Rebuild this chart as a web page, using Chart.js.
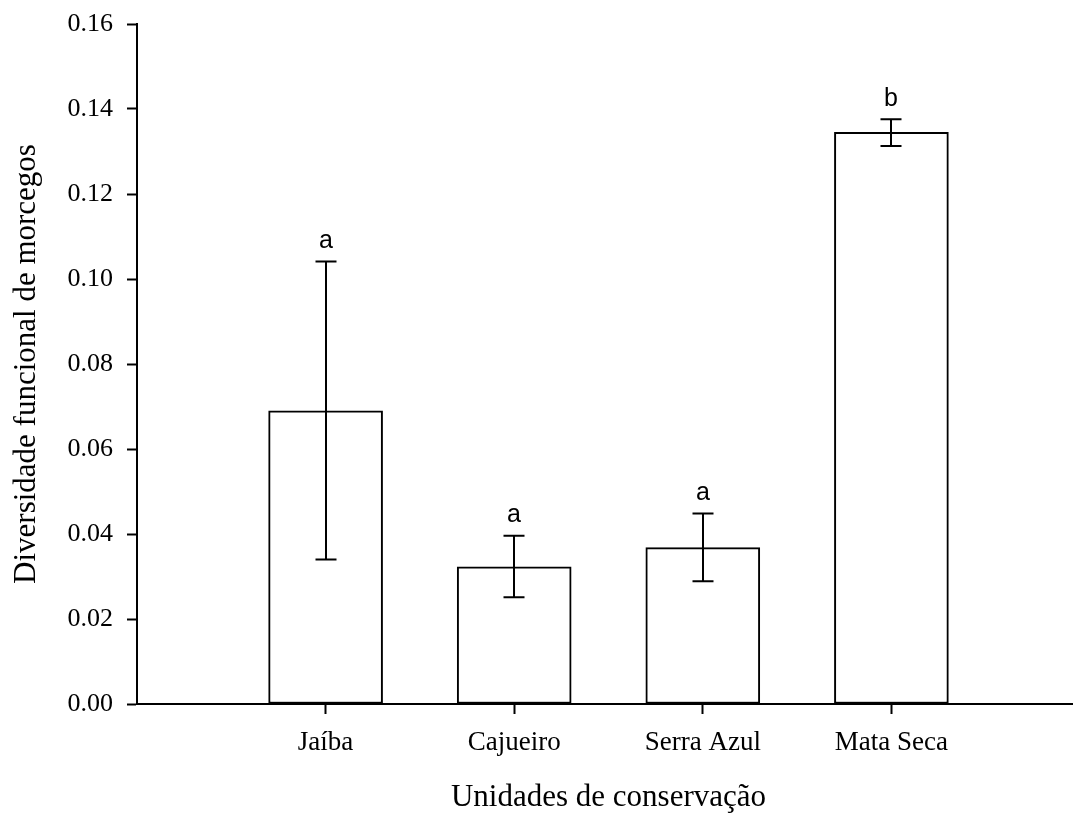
<!DOCTYPE html>
<html>
<head>
<meta charset="utf-8">
<script src="https://cdn.jsdelivr.net/npm/chart.js@4"></script>
<style>
  html, body { margin: 0; padding: 0; background: #fff; overflow: hidden; }
</style>
</head>
<body>
<!-- o eixo x passa um pouco da borda direita da figura -->
<canvas id="grafico" width="1080" height="818"></canvas>
<script>
// Dados
const categorias = ["Jaíba", "Cajueiro", "Serra Azul", "Mata Seca"];
const medias = [0.0690, 0.0323, 0.0368, 0.1345];
const erroSuperior = [0.1041, 0.0396, 0.0448, 0.1376];
const erroInferior = [0.0340, 0.0251, 0.0289, 0.1313];
const letras = ["a", "a", "a", "b"];
const yTicks = [0, 0.02, 0.04, 0.06, 0.08, 0.10, 0.12, 0.14, 0.16];

const serif = "'Liberation Serif', 'Times New Roman', serif";
const sans = "'Liberation Sans', Arial, sans-serif";

// slots vazios nas pontas, como no original
const rotulos = ["", ...categorias, ""];
const valores = [null, ...medias, null];

// Barras de erro e letras de significância
const barrasErro = {
  id: "barrasErro",
  afterDatasetsDraw(chart) {
    const { ctx, scales: { x, y } } = chart;
    ctx.save();
    ctx.strokeStyle = "#000";
    ctx.lineWidth = 2;
    ctx.fillStyle = "#000";
    ctx.font = "25px " + sans;
    ctx.textAlign = "center";
    ctx.textBaseline = "alphabetic";
    categorias.forEach((cat, i) => {
      const px = Math.round(x.getPixelForValue(i + 1));
      const topo = y.getPixelForValue(erroSuperior[i]);
      const base = y.getPixelForValue(erroInferior[i]);
      ctx.beginPath();
      ctx.moveTo(px, topo);
      ctx.lineTo(px, base);
      ctx.moveTo(px - 10.5, topo);
      ctx.lineTo(px + 10.5, topo);
      ctx.moveTo(px - 10.5, base);
      ctx.lineTo(px + 10.5, base);
      ctx.stroke();
      ctx.fillText(letras[i], px, topo - 13.5);
    });
    ctx.restore();
  }
};

const ctx = document.getElementById("grafico").getContext("2d");
new Chart(ctx, {
  type: "bar",
  data: {
    labels: rotulos,
    datasets: [{
      data: valores,
      backgroundColor: "#fff",
      borderColor: "#000",
      borderWidth: 2,
      borderSkipped: false,
      barThickness: 114
    }]
  },
  options: {
    responsive: false,
    animation: false,
    layout: { padding: { top: 24, right: 0, left: 0, bottom: 0 } },
    plugins: {
      legend: { display: false },
      tooltip: { enabled: false }
    },
    scales: {
      x: {
        type: "category",
        offset: false,
        border: { display: true, color: "#000", width: 2 },
        grid: {
          offset: false,
          drawOnChartArea: false,
          drawTicks: true,
          tickLength: 10,
          tickWidth: 2,
          tickColor: c => (c.index === 0 || c.index === rotulos.length - 1) ? "rgba(0,0,0,0)" : "#000"
        },
        ticks: {
          autoSkip: false,
          maxRotation: 0,
          padding: 13,
          color: "#000",
          font: { family: serif, size: 27 }
        },
        title: {
          display: true,
          text: "Unidades de conservação",
          color: "#000",
          font: { family: serif, size: 31 },
          padding: { top: 0, bottom: 2 }
        },
        afterFit: s => { s.height = 114; s.paddingRight = 0; s.paddingLeft = 0; }
      },
      y: {
        min: 0,
        max: 0.16,
        afterBuildTicks: s => { s.ticks = yTicks.map(v => ({ value: v })); },
        border: { display: true, color: "#000", width: 2 },
        grid: {
          drawOnChartArea: false,
          drawTicks: true,
          tickLength: 10,
          tickWidth: 2,
          tickColor: "#000"
        },
        ticks: {
          padding: 14,
          color: "#000",
          font: { family: serif, size: 26 },
          callback: v => v.toFixed(2)
        },
        title: {
          display: true,
          text: "Diversidade funcional de morcegos",
          color: "#000",
          font: { family: serif, size: 31 },
          padding: { top: 8, bottom: 0 }
        },
        afterFit: s => { s.width = 137; s.paddingTop = 0; s.paddingBottom = 0; }
      }
    }
  },
  plugins: [barrasErro]
});
</script>
</body>
</html>
